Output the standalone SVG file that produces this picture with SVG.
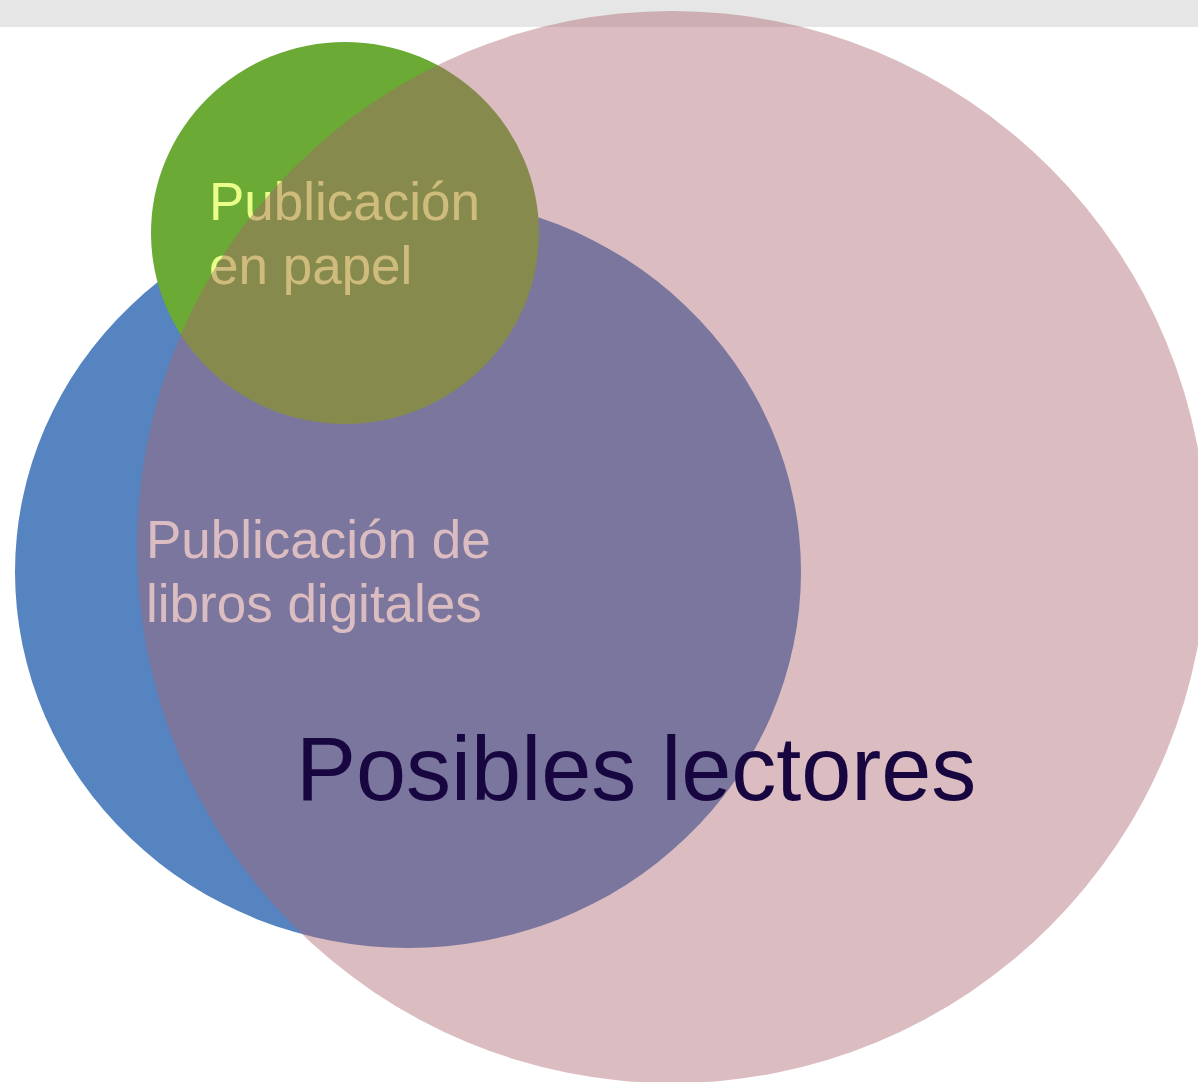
<svg xmlns="http://www.w3.org/2000/svg" width="1198" height="1082" viewBox="0 0 1198 1082">
<style>
.lbl{font-family:"Liberation Sans",Arial,sans-serif;}
.small{font-size:53px;}
</style>
<rect x="0" y="0" width="1198" height="1082" fill="#ffffff"/>
<rect id="topbar" x="0" y="0" width="1198" height="27" fill="#e6e6e6"/>
<g id="digital">
<ellipse cx="408" cy="572" rx="393" ry="376" fill="#5584c1"/>
<text class="lbl small" x="146" y="558" fill="#ffffff">Publicación de</text>
<text class="lbl small" x="146" y="622" fill="#ffffff">libros digitales</text>
</g>
<g id="papel">
<ellipse cx="345" cy="233" rx="194" ry="191" fill="#6aaa35"/>
<text class="lbl small" x="209" y="220" fill="#eaff8a">Publicación</text>
<text class="lbl small" x="209" y="284" fill="#eaff8a">en papel</text>
</g>
<g id="lectores">
<ellipse cx="672" cy="547" rx="535" ry="536" fill="#ac646e" fill-opacity="0.43"/>
<text class="lbl" x="296" y="800" font-size="90" fill="#170640">Posibles lectores</text>
</g>
<g id="connectors"></g>
</svg>
